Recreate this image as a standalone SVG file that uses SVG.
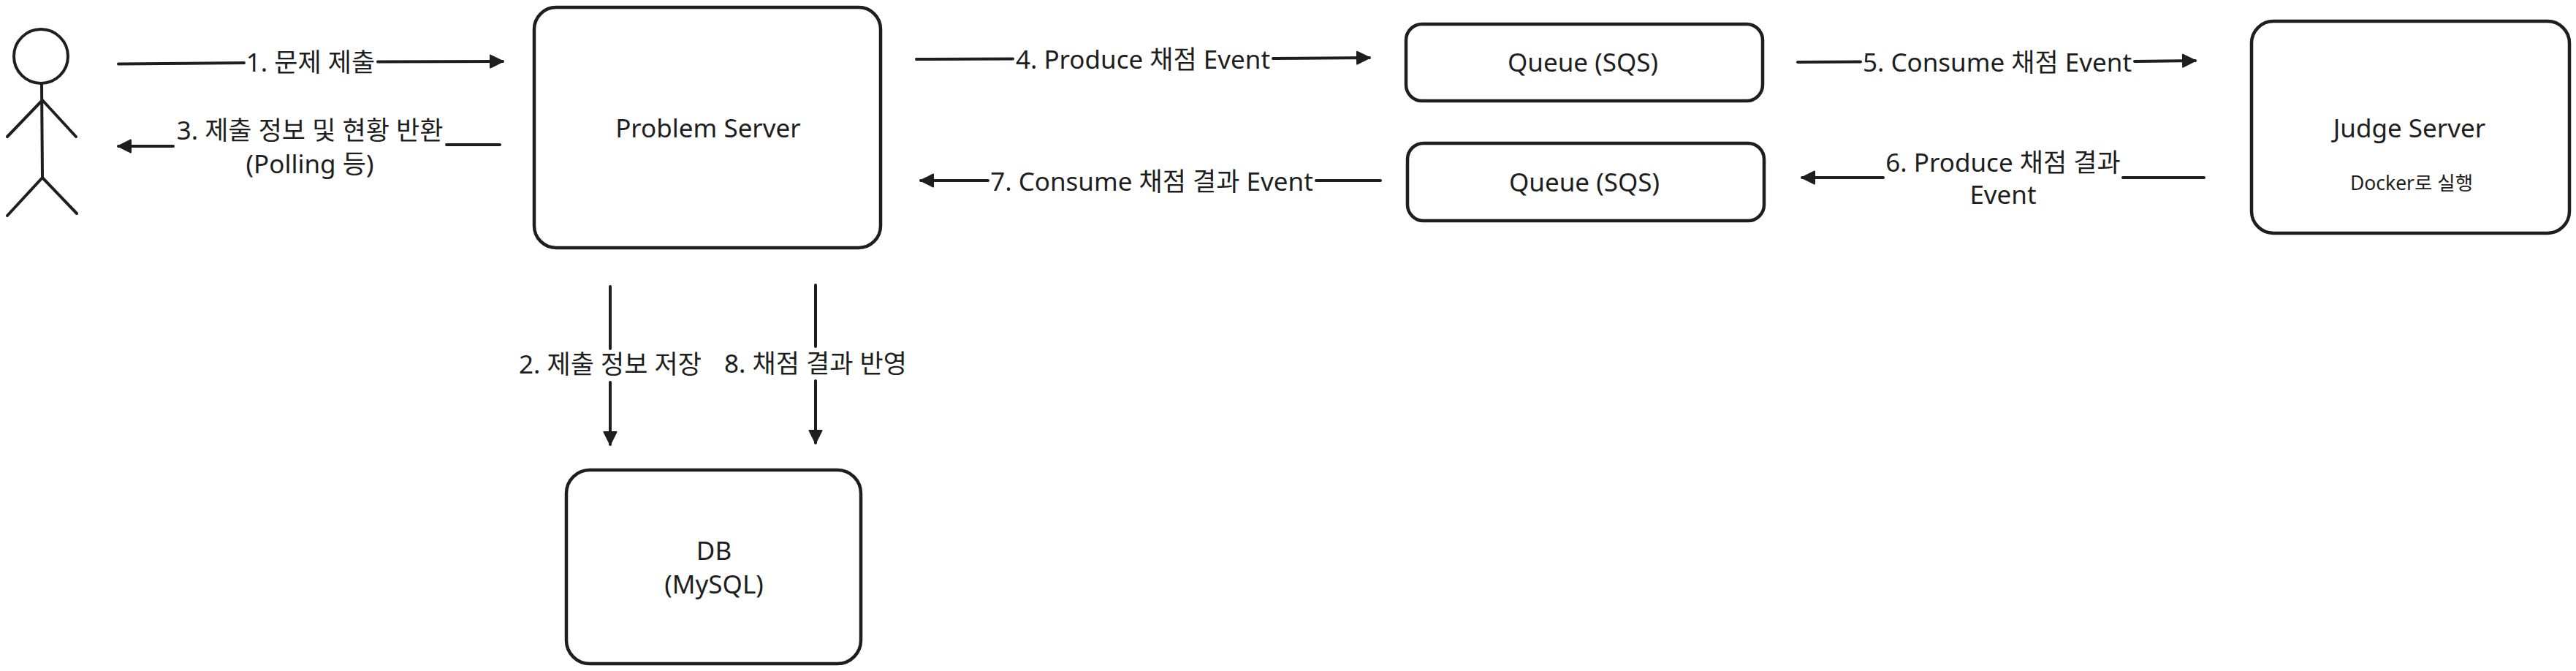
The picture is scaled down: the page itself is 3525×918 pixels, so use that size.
<svg xmlns="http://www.w3.org/2000/svg" width="3525" height="918" viewBox="0 0 3525 918">
<style>
.box{fill:#fff;stroke:#1e1e1e;stroke-width:4.5}
.ln{fill:none;stroke:#1e1e1e;stroke-width:4;stroke-linecap:round;stroke-linejoin:round}
.t{font-family:"Noto Sans","Noto Sans CJK KR",sans-serif;font-size:35px;fill:#1e1e1e;text-anchor:middle;dominant-baseline:central}
.s{font-size:26.5px}
</style>
<defs>
<marker id="a" markerUnits="userSpaceOnUse" markerWidth="26" markerHeight="26" refX="21" refY="13" orient="auto">
<path d="M4 4.5L21 13L4 21.5Z" fill="#1e1e1e" stroke="#1e1e1e" stroke-width="2" stroke-linejoin="round"/>
</marker>
</defs>
<rect width="3525" height="918" fill="#fff"/>
<g id="connectors">
<path class="ln" marker-end="url(#a)" d="M162 87.5L334 86M517 84.5L688 84"/>
<path class="ln" marker-end="url(#a)" d="M684 198L611 198M237 200L162 200"/>
<path class="ln" marker-end="url(#a)" d="M835 392L835 477M835 523L835 608"/>
<path class="ln" marker-end="url(#a)" d="M1116 390L1116 474M1116 521L1116 606"/>
<path class="ln" marker-end="url(#a)" d="M1254 81L1386 80.5M1742 80L1874 79"/>
<path class="ln" marker-end="url(#a)" d="M1889 247L1801 247M1352 247L1260 247"/>
<path class="ln" marker-end="url(#a)" d="M2460 85L2546 84.5M2921 84L3004 83"/>
<path class="ln" marker-end="url(#a)" d="M3016 243L2905 243M2577 243L2466 243"/>
</g>
<g id="labels">
<text class="t" x="425" y="84">1. 문제 제출</text>
<text class="t" x="424" y="177">3. 제출 정보 및 현황 반환</text>
<text class="t" x="424" y="223">(Polling 등)</text>
<text class="t" x="835" y="497">2. 제출 정보 저장</text>
<text class="t" x="1116" y="496">8. 채점 결과 반영</text>
<text class="t" x="1564" y="80">4. Produce 채점 Event</text>
<text class="t" x="1576" y="247">7. Consume 채점 결과 Event</text>
<text class="t" x="2733" y="84">5. Consume 채점 Event</text>
<text class="t" x="2741" y="221">6. Produce 채점 결과</text>
<text class="t" x="2741" y="265">Event</text>
</g>
<g id="actor">
<circle class="ln" cx="56" cy="77" r="37"/>
<path class="ln" d="M57 114L58 243M58 137L10 187M58 137L104 187M58 243L10 295M58 243L105 292"/>
</g>
<g id="problem-server">
<rect class="box" x="731" y="10" width="474" height="329" rx="30"/>
<text class="t" x="969" y="174">Problem Server</text>
</g>
<g id="db">
<rect class="box" x="775" y="643" width="403" height="265" rx="32"/>
<text class="t" x="977" y="752">DB</text>
<text class="t" x="977" y="798">(MySQL)</text>
</g>
<g id="queue-1">
<rect class="box" x="1924" y="33" width="488" height="105" rx="22"/>
<text class="t" x="2166" y="84">Queue (SQS)</text>
</g>
<g id="queue-2">
<rect class="box" x="1926" y="196" width="488" height="106" rx="22"/>
<text class="t" x="2168" y="248">Queue (SQS)</text>
</g>
<g id="judge-server">
<rect class="box" x="3081" y="29" width="435" height="290" rx="30"/>
<text class="t" x="3297" y="174">Judge Server</text>
<text class="t s" x="3300" y="250">Docker로 실행</text>
</g>
</svg>
